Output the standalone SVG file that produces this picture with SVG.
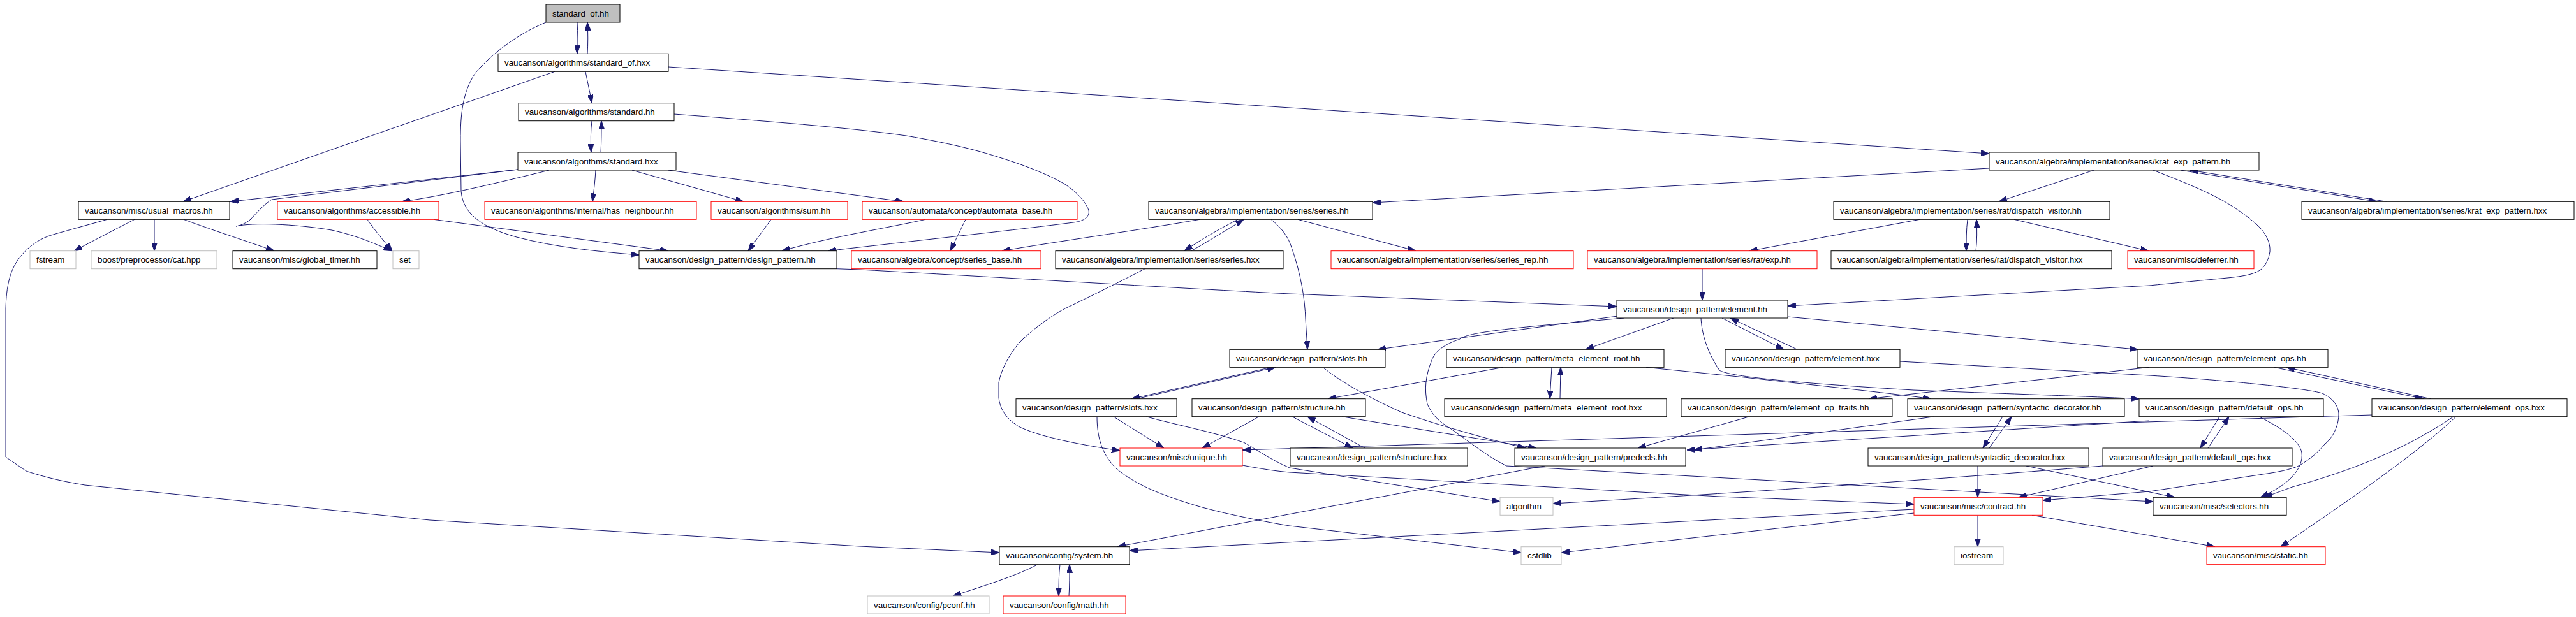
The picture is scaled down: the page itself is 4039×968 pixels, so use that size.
<svg xmlns="http://www.w3.org/2000/svg" width="4039" height="968" viewBox="0 0 4039 968">
<style>
.b{fill:#fff;stroke:#000;stroke-width:1}
.r{fill:#fff;stroke:#f00;stroke-width:1}
.g{fill:#fff;stroke:#bfbfbf;stroke-width:1}
.root{fill:#bfbfbf;stroke:#000;stroke-width:1}
text{font-family:"Liberation Sans",Arial,sans-serif;font-size:13.33px;fill:#000}
.e path{fill:none;stroke:#191970;stroke-width:1;marker-end:url(#ah)}
</style>
<defs>
<marker id="ah" viewBox="0 0 13 9" refX="13" refY="4.5" markerWidth="13" markerHeight="9" markerUnits="userSpaceOnUse" orient="auto">
<path d="M0,0 L13,4.5 L0,9 z" fill="#191970" stroke="#191970" stroke-width="1"/>
</marker>
</defs>
<rect width="4039" height="968" fill="#fff"/>
<g class="e" id="edges">
<path d="M906,35 C905,52 905,68 905,84.3"/>
<path d="M921,84.3 C922,68 922,52 921,35"/>
<path d="M856,35 C815,52 775,80 745,115 C725,145 722,180 722,220 L723,300 C726,338 760,358 810,372 C870,388 940,395 1002,400"/>
<path d="M870,112.3 L287,316.3"/>
<path d="M918,112.3 C921,128 925,145 928,161.7"/>
<path d="M1048,105 L3119,241"/>
<path d="M928,189.7 C926,206 926,222 927,239"/>
<path d="M942,239 C943,222 943,206 943,189.7"/>
<path d="M1057,179 C1200,190 1330,200 1421,213 C1490,225 1530,235 1567,247 C1600,257 1640,272 1668,288 C1690,302 1703,318 1707,330 C1709,340 1700,347 1683,349 C1600,360 1450,376 1298,393.7"/>
<path d="M812,266 L361,316.3"/>
<path d="M812,266 L426,313 C412,322 400,337 392,345 C384,351 376,354 370,355 C395,349 460,351 520,361 C560,370 585,381 614,393.7"/>
<path d="M861,267 C760,292 690,308 630,316.3"/>
<path d="M934,267 C933,285 931,300 929,316.3"/>
<path d="M991,267 L1166,316.3"/>
<path d="M1048,267 L1417,316.3"/>
<path d="M576,344.3 C585,358 600,376 615,393.7"/>
<path d="M680,344.3 L1048,393.7"/>
<path d="M1209,344.3 L1173,393.7"/>
<path d="M1451,344.3 C1400,356 1300,372 1226,393.7"/>
<path d="M1514,344.3 L1490,393.7"/>
<path d="M168,344.3 C130,355 100,363 77,370 C55,378 40,392 30,405 C15,425 10,450 9,484 L9,717 L41,739 C80,752 110,757 133,761 L674,816 L1348,857 L1567,867"/>
<path d="M211,344.3 C180,360 150,376 116,393.7"/>
<path d="M242,344.3 L242,393.7"/>
<path d="M288,344.3 C330,360 380,376 430,393.7"/>
<path d="M1312,421.7 L1348,423 C1600,437 1900,455 2022,461 L2535,481"/>
<path d="M1881,344.3 C1780,362 1650,380 1571,393.7"/>
<path d="M1941,344.3 C1910,360 1880,378 1857,393.7"/>
<path d="M1868,393.7 C1895,378 1925,360 1950,344.3"/>
<path d="M2035,344.3 L2220,393.7"/>
<path d="M1993,344.3 C2010,358 2020,372 2025,388 C2040,430 2046,470 2047,500 L2050,548.3"/>
<path d="M1795,421.7 C1760,440 1710,465 1670,484 C1640,500 1610,525 1597,539 C1580,560 1570,580 1566,600 L1566,624 C1568,640 1575,655 1597,669 C1625,683 1680,696 1756,707"/>
<path d="M3119,264 L2152,318"/>
<path d="M3283,267 L3134,316.3"/>
<path d="M3419,267 L3727,316.3"/>
<path d="M3742,316.3 L3434,267"/>
<path d="M3376,267 C3410,280 3455,298 3486,315 C3515,332 3535,348 3546,360 C3556,372 3560,385 3559,395 C3557,408 3552,416 3546,422 C3535,431 3515,434 3482,437 C3420,443 3390,446 3370,448 L2803,480"/>
<path d="M3010,344.3 L2743,393.7"/>
<path d="M3085,344.3 C3083,360 3083,378 3083,393.7"/>
<path d="M3098,393.7 C3100,378 3100,360 3099,344.3"/>
<path d="M3158,344.3 L3369,393.7"/>
<path d="M2669,421.7 L2669,471"/>
<path d="M2536,496 L2160,548.3"/>
<path d="M2546,499 C2400,512 2300,520 2289,532 C2265,540 2250,551 2245,565 C2235,590 2233,610 2238,634 C2245,650 2255,660 2268,668 C2300,690 2330,715 2362,731 L3376,787"/>
<path d="M2624,499 L2486,548.3"/>
<path d="M2700,499 L2797,548.3"/>
<path d="M2818,548.3 L2713,499"/>
<path d="M2803,497 L3352,548.3"/>
<path d="M2433,576.3 L2430,625.7"/>
<path d="M2446,625.7 L2447,576.3"/>
<path d="M2357,576.3 L2082,625.7"/>
<path d="M2581,576.3 L2726,591 C2850,605 2950,615 3028,625.7"/>
<path d="M2667,499 C2668,520 2675,550 2696,581 C2710,590 2800,600 3000,612 C3150,618 3280,622 3354,625.7"/>
<path d="M3566,576.3 L3800,625.7"/>
<path d="M3811,625.7 L3585,576.3"/>
<path d="M3370,576.3 L2930,625.7"/>
<path d="M2743,653.7 L2568,703"/>
<path d="M1993,576.3 L1774,625.7"/>
<path d="M1782,625.7 L2000,576.3"/>
<path d="M1746,653.7 L1825,703"/>
<path d="M1974,653.7 L1885,703"/>
<path d="M2026,653.7 L2121,703"/>
<path d="M2140,703 L2050,653.7"/>
<path d="M3719,651 L1948,706"/>
<path d="M3480,653.7 L3450,703"/>
<path d="M3462,703 L3495,653.7"/>
<path d="M3542,653.7 C3575,670 3605,690 3609,710 C3612,735 3590,760 3544,780.3"/>
<path d="M2979,567 L3370,589 C3500,597 3620,610 3641,617 C3660,625 3667,640 3667,650 C3667,665 3660,685 3645,697 C3630,715 3615,725 3602,732 C3580,740 3560,742 3542,745 L3370,771 L3203,785"/>
<path d="M3847,653.7 C3800,685 3760,705 3714,724 C3670,742 3620,757 3594,764 L3550,780.3"/>
<path d="M3851,653.7 C3780,720 3660,800 3576,857.7"/>
<path d="M3140,653.7 L3109,703"/>
<path d="M3119,703 L3154,653.7"/>
<path d="M3101,731 L3101,780.3"/>
<path d="M3101,808.3 L3101,857.7"/>
<path d="M3186,808.3 L3473,857.7"/>
<path d="M3001,805 L2448,867"/>
<path d="M3001,799 L1771,864"/>
<path d="M1720,653.7 C1720,690 1730,715 1750,735 C1780,760 1820,777 1885,796 C1930,808 1980,818 2022,825 L2385,867"/>
<path d="M2422,731 L1752,857.7"/>
<path d="M1627,885.7 C1590,905 1540,920 1494,935"/>
<path d="M1662,885.7 C1660,902 1660,918 1660,935"/>
<path d="M1676,935 C1677,918 1677,902 1677,885.7"/>
<path d="M3177,731 L3410,780.3"/>
<path d="M3376,731 L3165,780.3"/>
<path d="M3297,731 C3000,755 2700,775 2435,790"/>
<path d="M1948,730 C1980,736 2000,739 2022,741 L2696,779 L3001,791"/>
<path d="M1797,653.7 C1850,668 1900,677 1950,694 C1970,705 1990,720 2022,734 L2352,787"/>
<path d="M2074,576.3 C2110,605 2160,630 2198,647 C2250,665 2320,686 2392,703"/>
<path d="M2104,653.7 L2409,703"/>
<path d="M3033,653.7 L2656,706"/>
<path d="M3370,660 L2645,706"/>
</g>
<g id="n0"><rect class="root" x="856" y="7" width="116" height="28"/><text x="866" y="25.5">standard_of.hh</text></g>
<g id="n1"><rect class="b" x="781" y="84.3" width="267" height="28"/><text x="791" y="102.8">vaucanson/algorithms/standard_of.hxx</text></g>
<g id="n2"><rect class="b" x="813" y="161.7" width="244" height="28"/><text x="823" y="180.2">vaucanson/algorithms/standard.hh</text></g>
<g id="n3"><rect class="b" x="812" y="239" width="248" height="28"/><text x="822" y="257.5">vaucanson/algorithms/standard.hxx</text></g>
<g id="n4"><rect class="b" x="3119" y="239" width="423" height="28"/><text x="3129" y="257.5">vaucanson/algebra/implementation/series/krat_exp_pattern.hh</text></g>
<g id="n5"><rect class="b" x="123" y="316.3" width="237" height="28"/><text x="133" y="334.8">vaucanson/misc/usual_macros.hh</text></g>
<g id="n6"><rect class="r" x="435" y="316.3" width="253" height="28"/><text x="445" y="334.8">vaucanson/algorithms/accessible.hh</text></g>
<g id="n7"><rect class="r" x="760" y="316.3" width="332" height="28"/><text x="770" y="334.8">vaucanson/algorithms/internal/has_neighbour.hh</text></g>
<g id="n8"><rect class="r" x="1115" y="316.3" width="214" height="28"/><text x="1125" y="334.8">vaucanson/algorithms/sum.hh</text></g>
<g id="n9"><rect class="r" x="1352" y="316.3" width="337" height="28"/><text x="1362" y="334.8">vaucanson/automata/concept/automata_base.hh</text></g>
<g id="n10"><rect class="b" x="1801" y="316.3" width="351" height="28"/><text x="1811" y="334.8">vaucanson/algebra/implementation/series/series.hh</text></g>
<g id="n11"><rect class="b" x="2875" y="316.3" width="433" height="28"/><text x="2885" y="334.8">vaucanson/algebra/implementation/series/rat/dispatch_visitor.hh</text></g>
<g id="n12"><rect class="b" x="3609" y="316.3" width="427" height="28"/><text x="3619" y="334.8">vaucanson/algebra/implementation/series/krat_exp_pattern.hxx</text></g>
<g id="n13"><rect class="g" x="47" y="393.7" width="72" height="28"/><text x="57" y="412.2">fstream</text></g>
<g id="n14"><rect class="g" x="143" y="393.7" width="197" height="28"/><text x="153" y="412.2">boost/preprocessor/cat.hpp</text></g>
<g id="n15"><rect class="b" x="365" y="393.7" width="226" height="28"/><text x="375" y="412.2">vaucanson/misc/global_timer.hh</text></g>
<g id="n16"><rect class="g" x="616" y="393.7" width="41" height="28"/><text x="626" y="412.2">set</text></g>
<g id="n17"><rect class="b" x="1002" y="393.7" width="310" height="28"/><text x="1012" y="412.2">vaucanson/design_pattern/design_pattern.hh</text></g>
<g id="n18"><rect class="r" x="1335" y="393.7" width="297" height="28"/><text x="1345" y="412.2">vaucanson/algebra/concept/series_base.hh</text></g>
<g id="n19"><rect class="b" x="1655" y="393.7" width="357" height="28"/><text x="1665" y="412.2">vaucanson/algebra/implementation/series/series.hxx</text></g>
<g id="n20"><rect class="r" x="2087" y="393.7" width="380" height="28"/><text x="2097" y="412.2">vaucanson/algebra/implementation/series/series_rep.hh</text></g>
<g id="n21"><rect class="r" x="2489" y="393.7" width="360" height="28"/><text x="2499" y="412.2">vaucanson/algebra/implementation/series/rat/exp.hh</text></g>
<g id="n22"><rect class="b" x="2871" y="393.7" width="440" height="28"/><text x="2881" y="412.2">vaucanson/algebra/implementation/series/rat/dispatch_visitor.hxx</text></g>
<g id="n23"><rect class="r" x="3336" y="393.7" width="198" height="28"/><text x="3346" y="412.2">vaucanson/misc/deferrer.hh</text></g>
<g id="n24"><rect class="b" x="2535" y="471" width="268" height="28"/><text x="2545" y="489.5">vaucanson/design_pattern/element.hh</text></g>
<g id="n25"><rect class="b" x="1928" y="548.3" width="244" height="28"/><text x="1938" y="566.8">vaucanson/design_pattern/slots.hh</text></g>
<g id="n26"><rect class="b" x="2268" y="548.3" width="341" height="28"/><text x="2278" y="566.8">vaucanson/design_pattern/meta_element_root.hh</text></g>
<g id="n27"><rect class="b" x="2705" y="548.3" width="274" height="28"/><text x="2715" y="566.8">vaucanson/design_pattern/element.hxx</text></g>
<g id="n28"><rect class="b" x="3351" y="548.3" width="299" height="28"/><text x="3361" y="566.8">vaucanson/design_pattern/element_ops.hh</text></g>
<g id="n29"><rect class="b" x="1593" y="625.7" width="252" height="28"/><text x="1603" y="644.2">vaucanson/design_pattern/slots.hxx</text></g>
<g id="n30"><rect class="b" x="1869" y="625.7" width="272" height="28"/><text x="1879" y="644.2">vaucanson/design_pattern/structure.hh</text></g>
<g id="n31"><rect class="b" x="2265" y="625.7" width="348" height="28"/><text x="2275" y="644.2">vaucanson/design_pattern/meta_element_root.hxx</text></g>
<g id="n32"><rect class="b" x="2636" y="625.7" width="331" height="28"/><text x="2646" y="644.2">vaucanson/design_pattern/element_op_traits.hh</text></g>
<g id="n33"><rect class="b" x="2991" y="625.7" width="340" height="28"/><text x="3001" y="644.2">vaucanson/design_pattern/syntactic_decorator.hh</text></g>
<g id="n34"><rect class="b" x="3354" y="625.7" width="289" height="28"/><text x="3364" y="644.2">vaucanson/design_pattern/default_ops.hh</text></g>
<g id="n35"><rect class="b" x="3719" y="625.7" width="306" height="28"/><text x="3729" y="644.2">vaucanson/design_pattern/element_ops.hxx</text></g>
<g id="n36"><rect class="r" x="1756" y="703" width="192" height="28"/><text x="1766" y="721.5">vaucanson/misc/unique.hh</text></g>
<g id="n37"><rect class="b" x="2023" y="703" width="278" height="28"/><text x="2033" y="721.5">vaucanson/design_pattern/structure.hxx</text></g>
<g id="n38"><rect class="b" x="2375" y="703" width="268" height="28"/><text x="2385" y="721.5">vaucanson/design_pattern/predecls.hh</text></g>
<g id="n39"><rect class="b" x="2929" y="703" width="346" height="28"/><text x="2939" y="721.5">vaucanson/design_pattern/syntactic_decorator.hxx</text></g>
<g id="n40"><rect class="b" x="3297" y="703" width="297" height="28"/><text x="3307" y="721.5">vaucanson/design_pattern/default_ops.hxx</text></g>
<g id="n41"><rect class="g" x="2352" y="780.3" width="83" height="28"/><text x="2362" y="798.8">algorithm</text></g>
<g id="n42"><rect class="r" x="3001" y="780.3" width="202" height="28"/><text x="3011" y="798.8">vaucanson/misc/contract.hh</text></g>
<g id="n43"><rect class="b" x="3376" y="780.3" width="209" height="28"/><text x="3386" y="798.8">vaucanson/misc/selectors.hh</text></g>
<g id="n44"><rect class="b" x="1567" y="857.7" width="204" height="28"/><text x="1577" y="876.2">vaucanson/config/system.hh</text></g>
<g id="n45"><rect class="g" x="2385" y="857.7" width="63" height="28"/><text x="2395" y="876.2">cstdlib</text></g>
<g id="n46"><rect class="g" x="3064" y="857.7" width="77" height="28"/><text x="3074" y="876.2">iostream</text></g>
<g id="n47"><rect class="r" x="3460" y="857.7" width="186" height="28"/><text x="3470" y="876.2">vaucanson/misc/static.hh</text></g>
<g id="n48"><rect class="g" x="1360" y="935" width="191" height="28"/><text x="1370" y="953.5">vaucanson/config/pconf.hh</text></g>
<g id="n49"><rect class="r" x="1573" y="935" width="192" height="28"/><text x="1583" y="953.5">vaucanson/config/math.hh</text></g>
</svg>
